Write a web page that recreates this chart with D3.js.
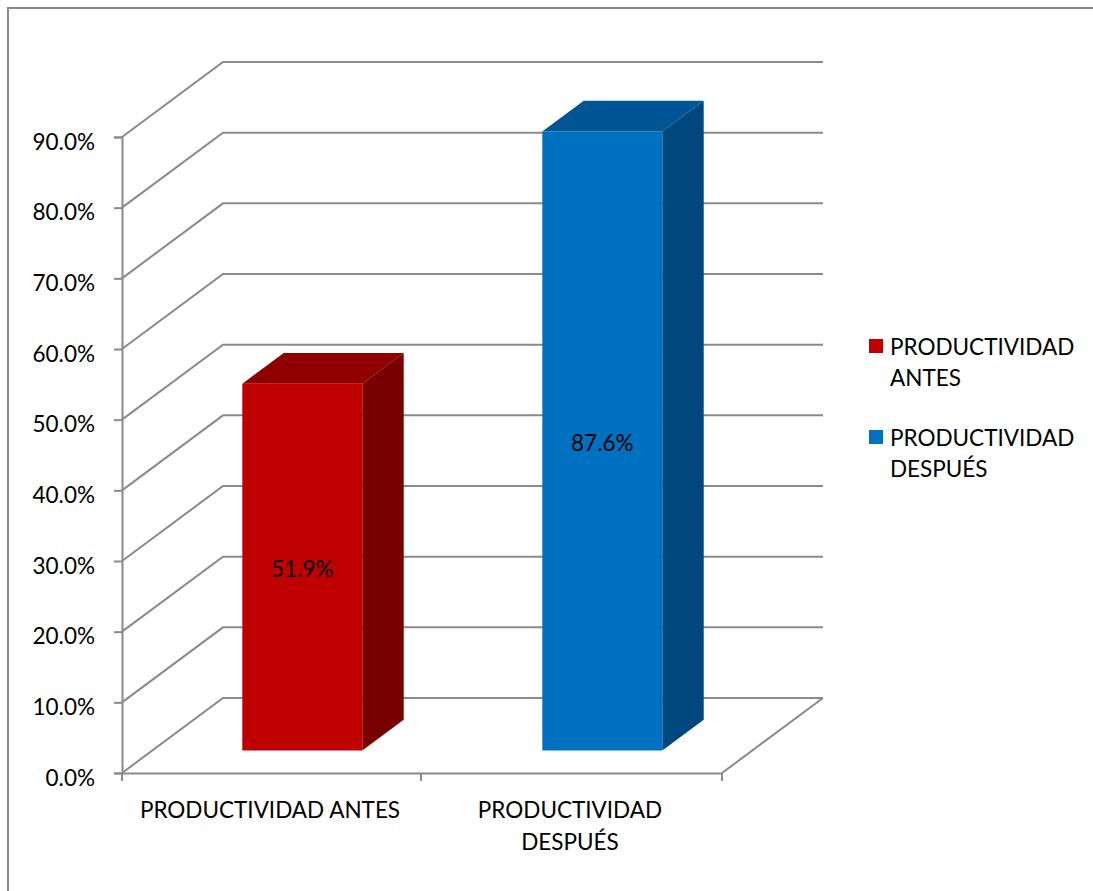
<!DOCTYPE html>
<html><head><meta charset="utf-8">
<script src="https://cdn.jsdelivr.net/npm/d3@7"></script>
<style>
html,body{margin:0;padding:0;background:#fff;overflow:hidden}
text{font-family:Lato,"Open Sans",sans-serif;fill:#000}
</style></head>
<body><svg id="chart" width="1093" height="891"></svg>
<script>
const categories = ["PRODUCTIVIDAD ANTES", "PRODUCTIVIDAD DESPUÉS"];
const values = [0.519, 0.876];
const labels = ["51.9%", "87.6%"];
const yTicks = [0, 0.1, 0.2, 0.3, 0.4, 0.5, 0.6, 0.7, 0.8, 0.9];
const colorsFront = ["#C00000", "#0070C0"];
const colorsTop = ["#900000", "#005694"];
const colorsSide = ["#780000", "#00477E"];

const svg = d3.select("#chart");
const gridColor = "#8a8a8a";
const FONT = "Lato,'Open Sans',sans-serif";
const FS = 22.5;
const DX = 101, DY = -75;

const x = d3.scaleBand().domain(categories).range([122, 722]).paddingInner(0.6).paddingOuter(0.3);
const xAxisBand = d3.scaleBand().domain(categories).range([122, 722]);
const y = d3.scaleLinear().domain([0, 0.9]).range([773, 137]);
const P = (px, v, d) => [px + d * DX, y(v) + d * DY];

// outer border
svg.append("rect").attr("x", 8).attr("y", 8).attr("width", 1100).attr("height", 900)
  .attr("fill", "none").attr("stroke", gridColor).attr("stroke-width", 2);

const g = svg.append("g").attr("stroke", gridColor).attr("stroke-width", 2).attr("fill", "none");
yTicks.forEach(t => {
  const a = P(122, t, 0), b = P(122, t, 1), c = P(722, t, 1);
  g.append("path").attr("d", d3.line()([a, b, c]));
});
g.append("path").attr("d", d3.line()([P(722, 0, 0), P(722, 0, 1)]));

// bars
const bars = svg.append("g");
const d0 = 0.3, d1 = 0.71;
categories.forEach((c, i) => {
  const xl = x(c), xr = x(c) + x.bandwidth(), v = values[i];
  const front = [P(xl, 0, d0), P(xr, 0, d0), P(xr, v, d0), P(xl, v, d0)];
  const top = [P(xl, v, d0), P(xr, v, d0), P(xr, v, d1), P(xl, v, d1)];
  const side = [P(xr, 0, d0), P(xr, 0, d1), P(xr, v, d1), P(xr, v, d0)];
  bars.append("path").attr("d", d3.line()(side) + "Z").attr("fill", colorsSide[i]);
  bars.append("path").attr("d", d3.line()(top) + "Z").attr("fill", colorsTop[i]);
  bars.append("path").attr("d", d3.line()(front) + "Z").attr("fill", colorsFront[i]);
  const cy = (y(0) + y(v)) / 2 + d0 * DY;
  bars.append("text").attr("x", (xl + xr) / 2 + d0 * DX).attr("y", cy + 10)
    .attr("text-anchor", "middle").attr("font-size", FS).text(labels[i]);
});

// y axis
const yAxis = svg.append("g").attr("transform", "translate(122,0)")
  .call(d3.axisLeft(y).tickValues(yTicks).tickFormat(d3.format(".1%")).tickSize(8).tickPadding(19));
yAxis.selectAll("path,line").attr("stroke", gridColor).attr("stroke-width", 2);
yAxis.selectAll("text").attr("font-size", FS).attr("font-family", FONT).attr("fill", "#000").attr("dy", 12);

// x axis
const xAxis = svg.append("g").attr("transform", "translate(0,773)")
  .call(d3.axisBottom(xAxisBand).tickSize(0).tickFormat(""));
xAxis.selectAll("path,line").attr("stroke", gridColor).attr("stroke-width", 2);
[122, 421, 722].forEach(px => svg.append("line").attr("x1", px).attr("x2", px).attr("y1", 773).attr("y2", 781)
  .attr("stroke", gridColor).attr("stroke-width", 2));
const xLabelLines = [["PRODUCTIVIDAD ANTES"], ["PRODUCTIVIDAD", "DESPUÉS"]];
categories.forEach((c, i) => {
  const cx = xAxisBand(c) + xAxisBand.bandwidth() / 2 - 2;
  const t = svg.append("text").attr("x", cx).attr("y", 818)
    .attr("text-anchor", "middle").attr("font-size", FS);
  xLabelLines[i].forEach((l, j) => t.append("tspan").attr("x", cx).attr("dy", j === 0 ? 0 : 32).text(l));
});

// legend
const legendLines = [["PRODUCTIVIDAD", "ANTES"], ["PRODUCTIVIDAD", "DESPUÉS"]];
const lg = svg.append("g");
legendLines.forEach((ls, i) => {
  const by = 355 + i * 91;
  lg.append("rect").attr("x", 869).attr("y", by - 16).attr("width", 14).attr("height", 14).attr("fill", colorsFront[i]);
  const t = lg.append("text").attr("x", 890).attr("y", by).attr("font-size", FS);
  ls.forEach((l, j) => t.append("tspan").attr("x", 890).attr("dy", j === 0 ? 0 : 31).text(l));
});
</script></body></html>
